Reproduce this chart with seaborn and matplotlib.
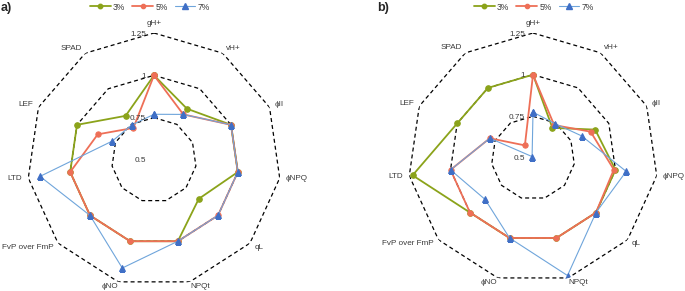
import numpy as np
import pandas as pd
import matplotlib
matplotlib.use("Agg")
import matplotlib.pyplot as plt
import seaborn as sns
from matplotlib.transforms import offset_copy
from matplotlib.lines import Line2D

# ================= data =================
CATEGORIES = ["gH+", "vH+", "ϕII", "ϕNPQ", "qL", "NPQt", "ϕNO",
              "FvP over FmP", "LTD", "LEF", "SPAD"]
RINGS = [0.5, 0.75, 1, 1.25]
RING_LABELS = ["0.5", "0.75", "1", "1.25"]
SERIES = ["3%", "5%", "7%"]

# panel a)
A_3 = [1.00, 0.86, 1.00, 1.00, 0.85, 1.00, 1.00, 1.00, 1.00, 1.00, 0.81]
A_5 = [1.00, 0.82, 1.00, 1.00, 1.00, 1.00, 1.00, 1.00, 1.00, 0.865, 0.725]
A_7 = [0.77, 0.82, 1.00, 1.00, 1.00, 1.00, 1.165, 1.00, 1.18, 0.77, 0.745]

# panel b)
B_3 = [1.00, 0.715, 0.91, 1.00, 1.00, 1.00, 1.00, 1.00, 1.23, 1.00, 1.00]
B_5 = [1.00, 0.735, 0.88, 0.99, 1.00, 1.00, 1.00, 1.00, 1.00, 0.785, 0.59]
B_7 = [0.775, 0.745, 0.82, 1.065, 1.00, 1.235, 1.00, 0.88, 1.00, 0.785, 0.51]

# ================= style =================
STYLE = {
    "3%": dict(mcolor="#8BA31A", lcolor="#8BA31A", marker="o", ms=4.0, lw=1.3),
    "5%": dict(mcolor="#EE6F57", lcolor="#EE6F57", marker="o", ms=3.8, lw=1.3),
    "7%": dict(mcolor="#3F6FC6", lcolor="#6FA5DB", marker="^", ms=4.6, lw=0.8),
}
TXT = "#3a3a3a"
FS = 5.9

sns.set_style("white")
plt.rcParams["font.family"] = ["Liberation Sans", "DejaVu Sans"]


def draw_radar(ax, fig, panel):
    n = len(CATEGORIES)
    angles = np.linspace(0, 2 * np.pi, n, endpoint=False)
    closed = np.append(angles, angles[0] + 2 * np.pi)

    ax.set_theta_zero_location("N")
    ax.set_theta_direction(-1)

    # dashed polygon grid
    for lvl in RINGS[1:]:
        ax.plot(closed, [lvl] * (n + 1), color="black",
                ls=(0, (3.2, 2.4)), lw=0.9, zorder=1)

    for name, vals in zip(SERIES, panel):
        st = STYLE[name]
        df = pd.DataFrame({"angle": closed, "value": list(vals) + [vals[0]]})
        sns.lineplot(data=df, x="angle", y="value", sort=False, estimator=None,
                     color=st["lcolor"], lw=st["lw"], marker=st["marker"],
                     markersize=st["ms"], markerfacecolor=st["mcolor"],
                     markeredgecolor=st["mcolor"], ax=ax, legend=False, zorder=3)

    ax.set_ylim(0.5, 1.25)
    ax.grid(False)
    ax.set_xticks([])
    ax.set_yticks([])
    ax.set_xlabel("")
    ax.set_ylabel("")
    ax.spines["polar"].set_visible(False)
    ax.patch.set_alpha(0)

    # category labels
    for ang, lab in zip(angles, CATEGORIES):
        s, c = np.sin(ang), np.cos(ang)
        ha = "left" if s > 0.05 else ("right" if s < -0.05 else "center")
        if c > 0.9:
            va, r = "bottom", 1.285
        elif c < -0.9:
            va, r = "top", 1.255
        else:
            va, r = "center", 1.285
        ax.text(ang, r, lab, ha=ha, va=va, fontsize=FS, color=TXT)

    # ring value labels along the top spoke
    tr = offset_copy(ax.transData, fig=fig, x=-8, y=-1, units="dots")
    for lvl, lab in zip(RINGS, RING_LABELS):
        ax.text(0, lvl, lab, transform=tr, ha="right", va="center",
                fontsize=FS, color=TXT)


fig = plt.figure(figsize=(6.85, 2.91), dpi=100)
W, H = 685, 291

ax_a = fig.add_axes([27 / W, (H - 287) / H, 254 / W, 254 / H], projection="polar")
ax_b = fig.add_axes([408 / W, (H - 283) / H, 250 / W, 250 / H], projection="polar")

draw_radar(ax_a, fig, [A_3, A_5, A_7])
draw_radar(ax_b, fig, [B_3, B_5, B_7])

handles = [Line2D([], [], color=STYLE[s]["lcolor"], lw=STYLE[s]["lw"],
                  marker=STYLE[s]["marker"], ms=STYLE[s]["ms"] * 0.8,
                  markerfacecolor=STYLE[s]["mcolor"],
                  markeredgecolor=STYLE[s]["mcolor"]) for s in SERIES]
for cx in (150, 534):
    leg = fig.legend(handles, SERIES, loc="center", bbox_to_anchor=(cx / W, 1 - 7 / H),
                     ncol=3, frameon=False, fontsize=FS + 0.3, handlelength=2.4,
                     columnspacing=0.8, handletextpad=0.3, borderpad=0)
    for t in leg.get_texts():
        t.set_color(TXT)

fig.text(1 / W, 1 - 8 / H, "a)", ha="left", va="center", fontsize=9, fontweight="bold")
fig.text(377 / W, 1 - 8 / H, "b)", ha="left", va="center", fontsize=9, fontweight="bold")

fig.savefig("out.png", dpi=100)
